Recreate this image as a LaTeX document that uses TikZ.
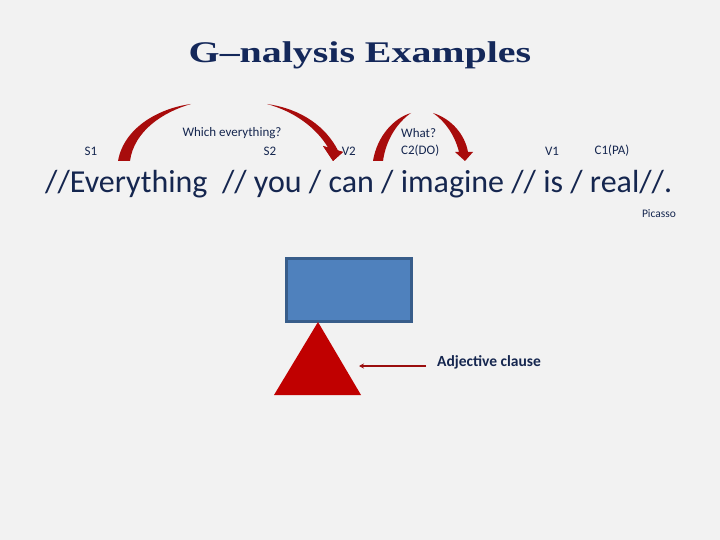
\documentclass[tikz,border=0pt]{standalone}
\usepackage{fontspec}
\setmainfont{Carlito}
\newfontfamily\titlefont[FakeStretch=1.33]{Liberation Serif}
\usetikzlibrary{arrows.meta}
\definecolor{bg}{HTML}{F2F2F2}
\definecolor{navy}{HTML}{14285A}
\definecolor{txt}{HTML}{15264F}
\definecolor{boxfill}{HTML}{4F81BD}
\definecolor{boxline}{HTML}{385D8A}
\definecolor{tri}{HTML}{C00000}
\definecolor{curv}{HTML}{A80C0C}
\definecolor{pointer}{HTML}{9B0E0E}
\tikzset{
  lbl/.style={font=\fontsize{13}{15}\selectfont, text=txt, inner sep=0pt},
  curvarrow/.style={fill=curv, draw=none},
}
\begin{document}
\begin{tikzpicture}[x=1pt,y=-1pt]
\fill[bg] (0,0) rectangle (720,540);
\useasboundingbox (0,0) rectangle (720,540);
% title
\node[font=\titlefont\bfseries\fontsize{30}{36}\selectfont, text=navy, inner sep=0pt] (title) at (360,55) {G–nalysis Examples};
% curved arrows
\fill[curvarrow] (118,161) .. controls (124,127) and (160,108) .. (191,104)
   .. controls (163,112) and (134,131) .. (130,161) -- cycle;
\fill[curvarrow] (267,104) .. controls (302,109) and (326,127) .. (338,150.5)
   -- (343,152) -- (333,161) -- (323,146) -- (328,147.5)
   .. controls (317,129) and (296,112) .. (267,104) -- cycle;
\fill[curvarrow] (373,161) .. controls (377,136) and (394,118) .. (411,113)
   .. controls (398,122) and (386,139) .. (383,161) -- cycle;
\fill[curvarrow] (433,113) .. controls (452,119) and (465,135) .. (468,152)
   -- (473,152) -- (465,161) -- (455,152) -- (459,152)
   .. controls (455,136) and (446,122) .. (433,113) -- cycle;
% labels
\node[lbl] (s1) at (91,151) {S1};
\node[lbl] (which) at (232,133) {Which everything?};
\node[lbl] (s2) at (270,151) {S2};
\node[lbl, anchor=east] (v2) at (356,151) {V2};
\node[lbl, anchor=west] (what) at (401,133) {What?};
\node[lbl, anchor=west] (c2) at (401,151) {C2(DO)};
\node[lbl] (v1) at (552,151) {V1};
\node[lbl] (c1) at (612,151) {C1(PA)};
% re-draw arrow head over V2 label
\fill[curvarrow] (338,150.5) -- (343,152) -- (333,161) -- (323,146) -- (328,147.5) -- cycle;
% sentence
\node[font=\fontsize{32}{36}\selectfont, text=txt, inner sep=0pt, anchor=base west] (sent) at (45,193) {//Everything~~// you / can / imagine // is / real//.};
\node[font=\fontsize{11.5}{13}\selectfont, text=txt, inner sep=0pt] (picasso) at (659,214) {Picasso};
% box and triangle
\node[draw=boxline, line width=2.5pt, fill=boxfill, minimum width=125pt, minimum height=63pt, inner sep=0pt] (box) at (349,290) {};
\fill[tri] (318,322) -- (361,395) -- (274,395) -- cycle;
\coordinate (trpt) at (359,366);
\node[font=\bfseries\fontsize{15.5}{18}\selectfont, text=txt, inner sep=0pt, anchor=west] (adj) at (437,362) {Adjective clause};
\draw[pointer, line width=1.6pt, -{Stealth[length=5pt,width=5pt]}] (426,366) -- (trpt);
\end{tikzpicture}
\end{document}
